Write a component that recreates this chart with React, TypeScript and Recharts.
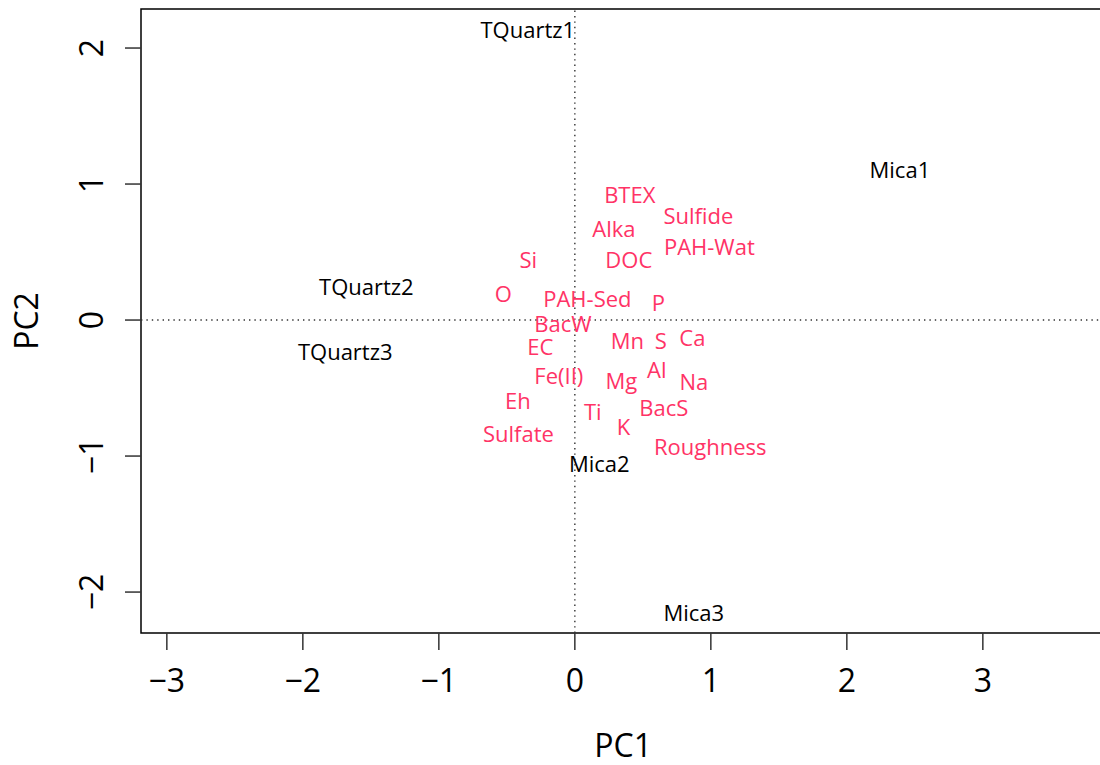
import React from 'react';
import { ScatterChart, Scatter, XAxis, YAxis, ReferenceLine, ReferenceArea, Label } from 'recharts';

const sampleNames = ['TQuartz1', 'TQuartz2', 'TQuartz3', 'Mica1', 'Mica2', 'Mica3'];
const samplePC1 = [-0.346, -1.533, -1.688, 2.39, 0.18, 0.875];
const samplePC2 = [2.132, 0.243, -0.235, 1.103, -1.055, -2.154];

const varNames = ['BTEX', 'Sulfide', 'Alka', 'PAH-Wat', 'DOC', 'Si', 'O', 'PAH-Sed', 'P', 'BacW', 'EC', 'Mn', 'S', 'Ca', 'Fe(II)', 'Al', 'Mg', 'Na', 'Eh', 'Ti', 'BacS', 'K', 'Sulfate', 'Roughness'];
const varPC1 = [0.404, 0.908, 0.287, 0.989, 0.397, -0.342, -0.526, 0.092, 0.614, -0.088, -0.254, 0.386, 0.632, 0.864, -0.118, 0.603, 0.342, 0.875, -0.419, 0.132, 0.654, 0.357, -0.415, 0.996];
const varPC2 = [0.919, 0.765, 0.673, 0.537, 0.441, 0.441, 0.195, 0.158, 0.125, -0.03, -0.199, -0.154, -0.154, -0.132, -0.412, -0.364, -0.449, -0.452, -0.596, -0.673, -0.643, -0.79, -0.835, -0.93];

const xTicks = [-3, -2, -1, 0, 1, 2, 3];
const yTicks = [-2, -1, 0, 1, 2];
const xDomain = [-3.19, 3.9];
const yDomain = [-2.301, 2.287];

const FONT = '"Open Sans", "Noto Sans", sans-serif';
const RED = '#ff3366';

const sampleData = sampleNames.map((n, i) => ({ name: n, x: samplePC1[i], y: samplePC2[i] }));
const varData = varNames.map((n, i) => ({ name: n, x: varPC1[i], y: varPC2[i] }));

const fmt = (v: number) => (v < 0 ? '\u2212' + Math.abs(v) : String(v));

const makeLabelShape = (color: string) => (props: any) => {
  const { cx, cy, payload } = props;
  return (
    <text x={cx} y={cy} dy={8} textAnchor="middle" fill={color} fontSize={22} fontFamily={FONT}>
      {payload.name}
    </text>
  );
};

const XTick = (props: any) => {
  const { x, y, payload } = props;
  return (
    <text x={x} y={y} dy={42} textAnchor="middle" fill="#000" fontSize={32} fontFamily={FONT}>
      {fmt(payload.value)}
    </text>
  );
};

const YTick = (props: any) => {
  const { x, y, payload } = props;
  const bx = x - 22;
  return (
    <text x={bx} y={y} transform={`rotate(-90 ${bx} ${y})`} textAnchor="middle" fill="#000" fontSize={32} fontFamily={FONT}>
      {fmt(payload.value)}
    </text>
  );
};

export default function App() {
  return (
    <div style={{ position: 'absolute', left: 0, top: 0, width: 1100, height: 765, overflow: 'hidden', background: '#fff', fontFamily: FONT }}>
      <ScatterChart width={1130} height={765} margin={{ top: 9, right: 24.76, left: 0, bottom: 0 }}>
        <XAxis
          type="number"
          dataKey="x"
          domain={xDomain}
          ticks={xTicks}
          allowDataOverflow
          height={132}
          axisLine={false}
          tickSize={17}
          tickMargin={0}
          tickLine={{ stroke: '#333', strokeWidth: 1.5 }}
          tick={<XTick />}
          interval={0}
        >
          <Label
            content={(p: any) => {
              const vb = p.viewBox;
              return (
                <text x={vb.x + vb.width / 2} y={vb.y + 124} textAnchor="middle" fill="#000" fontSize={32} fontFamily={FONT}>
                  PC1
                </text>
              );
            }}
          />
        </XAxis>
        <YAxis
          type="number"
          dataKey="y"
          domain={yDomain}
          ticks={yTicks}
          allowDataOverflow
          width={141}
          axisLine={false}
          tickSize={16}
          tickMargin={0}
          tickLine={{ stroke: '#333', strokeWidth: 1.5 }}
          tick={<YTick />}
          interval={0}
        >
          <Label
            content={(p: any) => {
              const vb = p.viewBox;
              const cy = vb.y + vb.height / 2;
              return (
                <text x={38} y={cy} transform={`rotate(-90 38 ${cy})`} textAnchor="middle" fill="#000" fontSize={32} fontFamily={FONT}>
                  PC2
                </text>
              );
            }}
          />
        </YAxis>
        <ReferenceArea x1={xDomain[0]} x2={xDomain[1]} y1={yDomain[0]} y2={yDomain[1]} fill="none" fillOpacity={0} stroke="#000" strokeWidth={1.5} ifOverflow="visible" />
        <ReferenceLine x={0} stroke="#333" strokeWidth={1.4} strokeDasharray="1.4 4" />
        <ReferenceLine y={0} stroke="#333" strokeWidth={1.4} strokeDasharray="1.4 4" />
        <Scatter data={sampleData} dataKey="y" isAnimationActive={false} shape={makeLabelShape('#000')} />
        <Scatter data={varData} dataKey="y" isAnimationActive={false} shape={makeLabelShape(RED)} />
      </ScatterChart>
    </div>
  );
}
